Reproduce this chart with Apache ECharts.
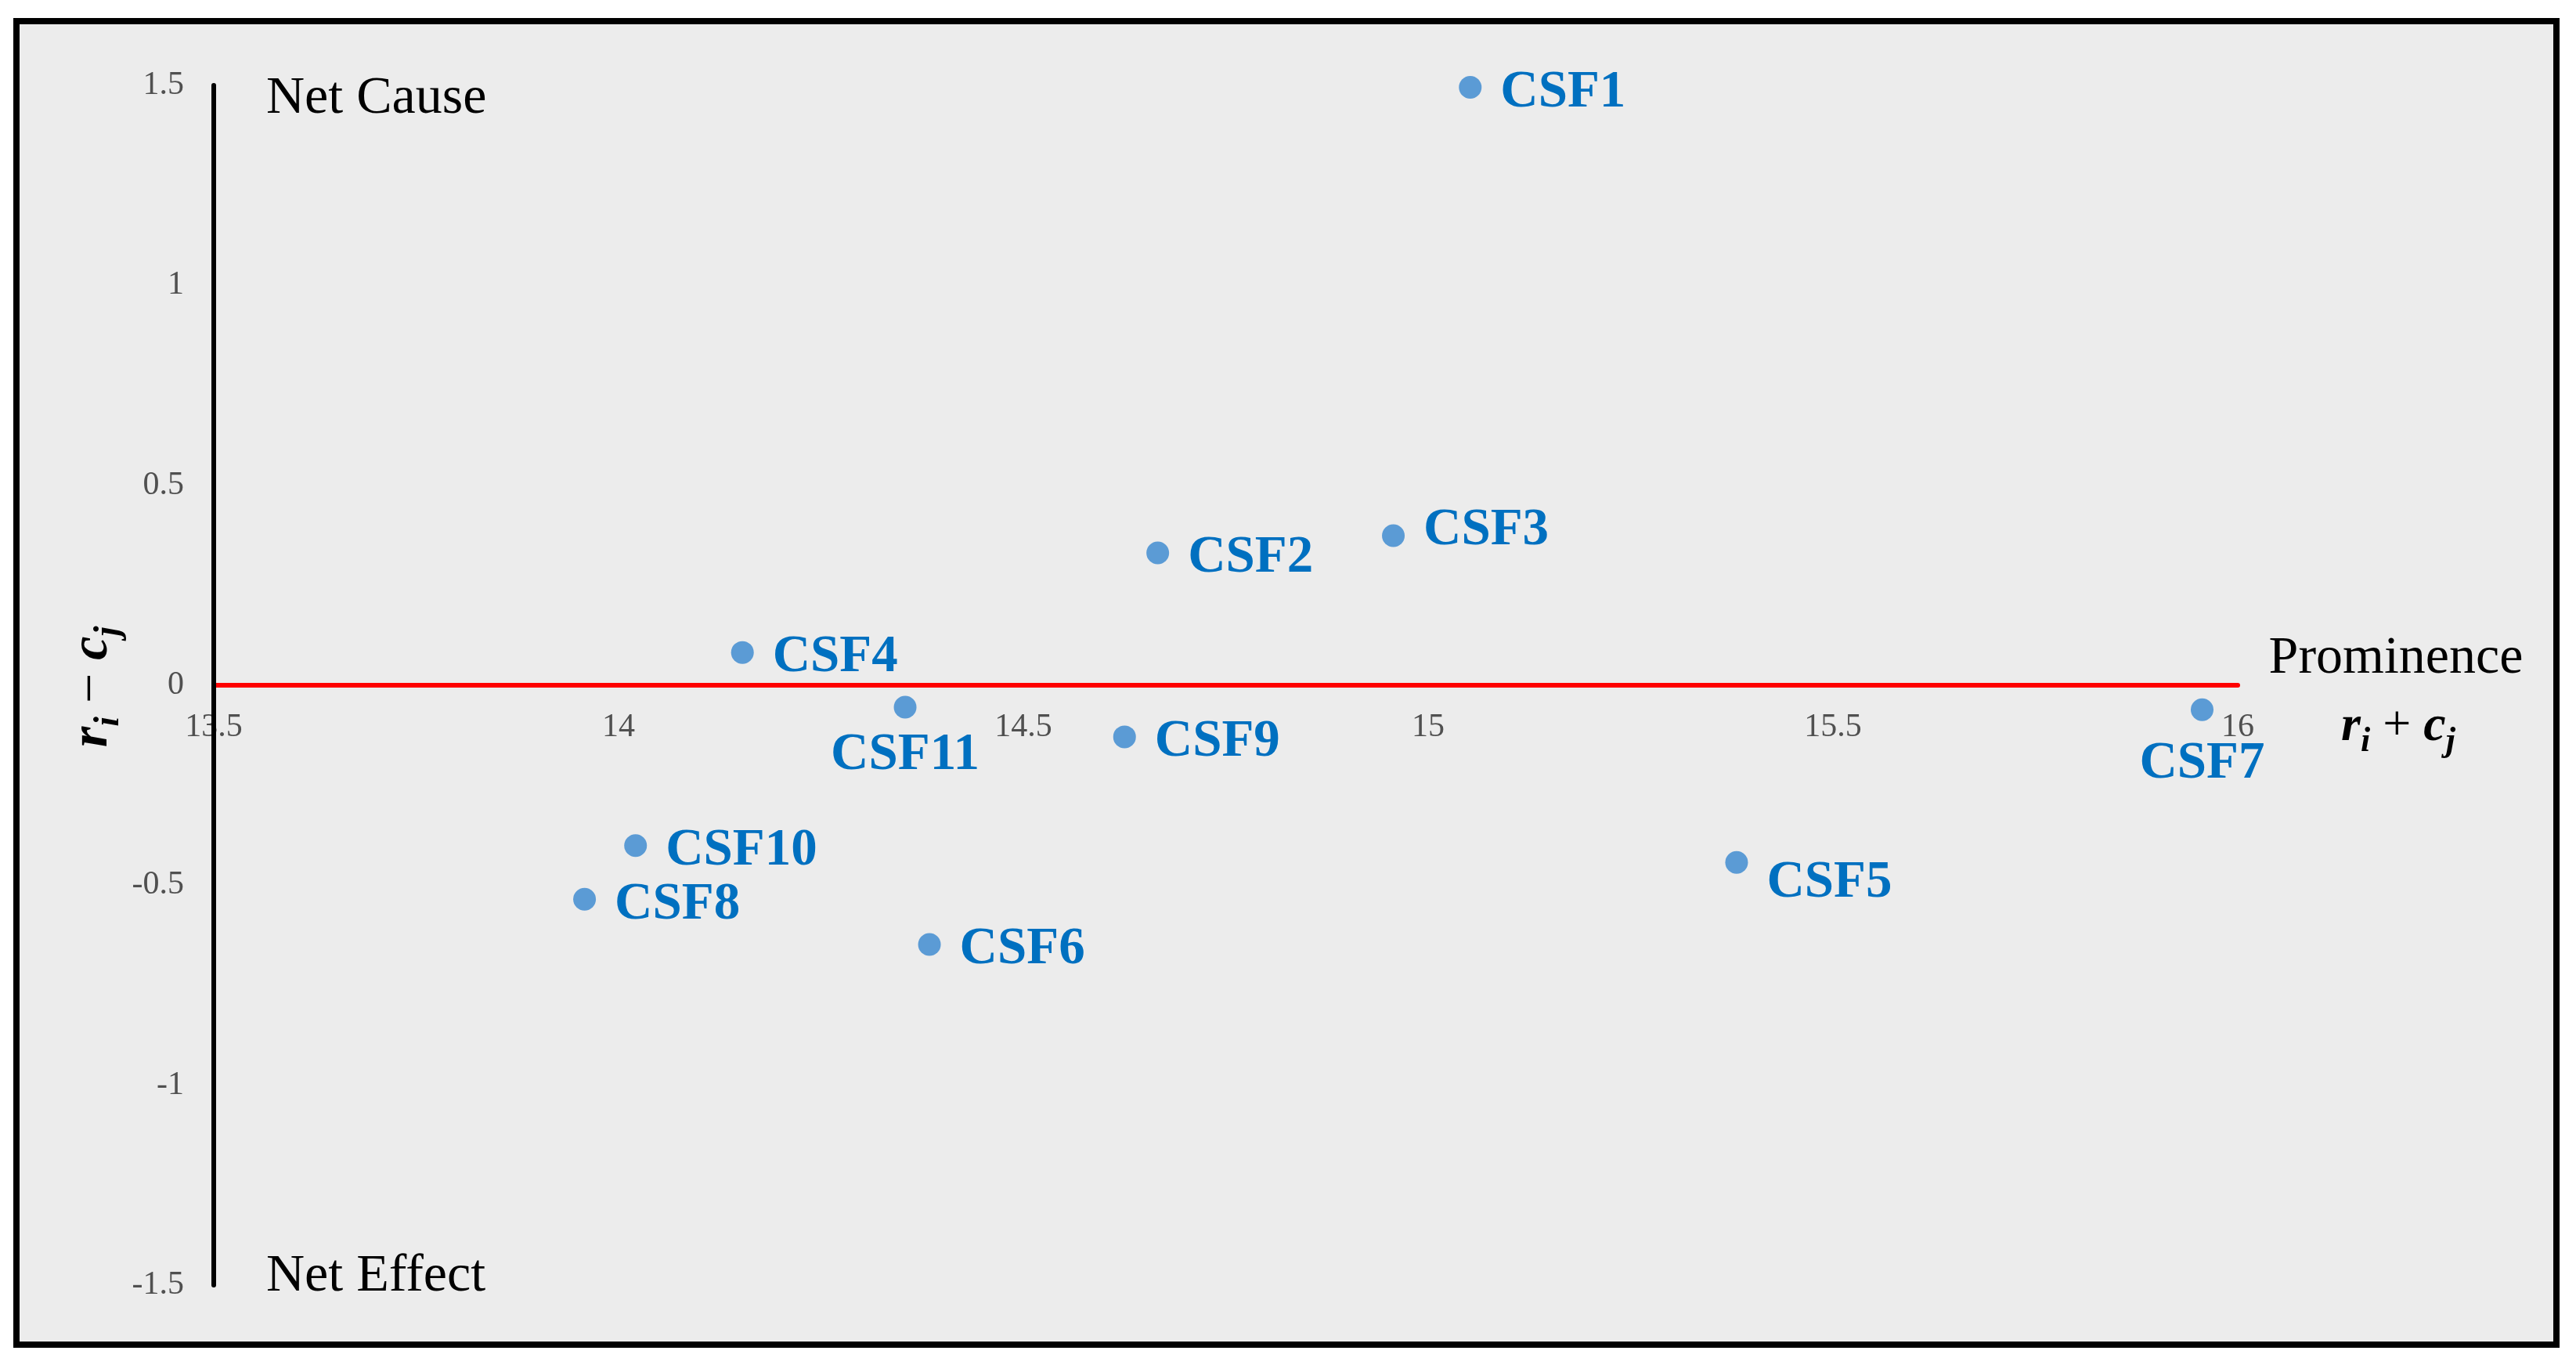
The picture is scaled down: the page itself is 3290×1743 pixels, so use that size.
<!DOCTYPE html>
<html>
<head>
<meta charset="utf-8">
<style>
  html, body { margin: 0; padding: 0; background: #ffffff; }
  #chart { width: 3290px; height: 1743px; }
</style>
<script src="https://cdn.jsdelivr.net/npm/echarts@6/dist/echarts.min.js"></script>
</head>
<body>
<div id="chart"></div>
<script>
// ---- data ----
const names = ['CSF1','CSF2','CSF3','CSF4','CSF5','CSF6','CSF7','CSF8','CSF9','CSF10','CSF11'];
const prominence = [15.052, 14.666, 14.957, 14.153, 15.381, 14.384, 15.956, 13.958, 14.625, 14.021, 14.354]; // r_i + c_j
const relation   = [1.495, 0.331, 0.374, 0.082, -0.443, -0.648, -0.061, -0.535, -0.129, -0.401, -0.055]; // r_i - c_j
const xTicks = [13.5, 14, 14.5, 15, 15.5, 16];
const yTicks = [-1.5, -1, -0.5, 0, 0.5, 1, 1.5];

const serif = "'Liberation Serif', 'Times New Roman', serif";
const labelOverrides = {
  'CSF3':  { offset: [0, -6] },
  'CSF5':  { offset: [0, 26] },
  'CSF7':  { position: 'inside', offset: [0, 70] },
  'CSF11': { position: 'inside', offset: [0, 62] }
};

const points = names.map((n, i) => {
  const item = { name: n, value: [prominence[i], relation[i]] };
  if (labelOverrides[n]) item.label = labelOverrides[n];
  return item;
});

const chart = echarts.init(document.getElementById('chart'), null, { renderer: 'canvas' });

function titleRich(size) {
  const sub = Math.round(size * 0.68);
  const lh = Math.round(size * 1.3);
  return {
    b: { fontFamily: serif, fontSize: size, fontWeight: 'bold', fontStyle: 'italic', color: '#000', lineHeight: lh, verticalAlign: 'middle' },
    s: { fontFamily: serif, fontSize: sub, fontWeight: 'bold', fontStyle: 'italic', color: '#000', lineHeight: Math.round(lh / 2), padding: [Math.round(lh / 2), 0, 0, 0], verticalAlign: 'bottom' },
    o: { fontFamily: serif, fontSize: size, fontWeight: 'normal', color: '#000', lineHeight: lh, verticalAlign: 'middle' }
  };
}

const GRID_TOP = 109, GRID_BOTTOM = 102, H = 1743;
const yMin = yTicks[0], yMax = yTicks[yTicks.length - 1];
// distance from grid bottom to the y = 0 line, derived from the axis extent
const zeroOffset = -((0 - yMin) / (yMax - yMin)) * (H - GRID_TOP - GRID_BOTTOM);

chart.setOption({
  backgroundColor: '#ffffff',
  animation: false,
  grid: { left: 273, right: 432, top: GRID_TOP, bottom: GRID_BOTTOM, containLabel: false },
  xAxis: {
    type: 'value',
    position: 'bottom',
    offset: zeroOffset,
    min: xTicks[0], max: xTicks[xTicks.length - 1], interval: 0.5,
    axisLine: { onZero: false, lineStyle: { color: '#ff0000', width: 6 } },
    axisTick: { show: false },
    splitLine: { show: false },
    axisLabel: { fontFamily: serif, fontSize: 42, color: '#505050', margin: 33,
      formatter: v => String(v) }
  },
  yAxis: {
    type: 'value',
    min: yMin, max: yMax, interval: 0.5,
    axisLine: { show: true, onZero: false, lineStyle: { color: '#000000', width: 6 } },
    axisTick: { show: false },
    splitLine: { show: false },
    z: 3,
    axisLabel: { fontFamily: serif, fontSize: 42, color: '#505050', margin: 38,
      formatter: v => String(v) }
  },
  graphic: [
    { type: 'rect', z: -100, shape: { x: 21, y: 27, width: 3244, height: 1690 },
      style: { fill: '#ececec', stroke: '#000000', lineWidth: 8 } },
    { type: 'text', x: 340, y: 126, z: 10,
      style: { text: 'Net Cause', fontFamily: serif, fontSize: 68, fill: '#000', verticalAlign: 'middle', align: 'left' } },
    { type: 'text', x: 340, y: 1630, z: 10,
      style: { text: 'Net Effect', fontFamily: serif, fontSize: 68, fill: '#000', verticalAlign: 'middle', align: 'left' } },
    { type: 'text', x: 3060, y: 841, z: 10,
      style: { text: 'Prominence', fontFamily: serif, fontSize: 68, fill: '#000', verticalAlign: 'middle', align: 'center' } },
    { type: 'text', x: 3063, y: 928, z: 10,
      style: { text: '{b|r}{s|i}{o| + }{b|c}{s|j}', rich: titleRich(64), verticalAlign: 'middle', align: 'center' } },
    { type: 'text', x: 118, y: 877, z: 10, rotation: Math.PI / 2,
      style: { text: '{b|r}{s|i}{o| − }{b|c}{s|j}', rich: titleRich(68), verticalAlign: 'middle', align: 'center' } }
  ],
  series: [{
    type: 'scatter',
    symbol: 'circle',
    symbolSize: 29,
    itemStyle: { color: '#5b9bd5', opacity: 1 },
    label: {
      show: true,
      position: 'right',
      distance: 24,
      offset: [0, 7],
      formatter: p => p.name,
      fontFamily: serif,
      fontSize: 67,
      fontWeight: 'bold',
      color: '#0070c0'
    },
    data: points
  }]
});
</script>
</body>
</html>
